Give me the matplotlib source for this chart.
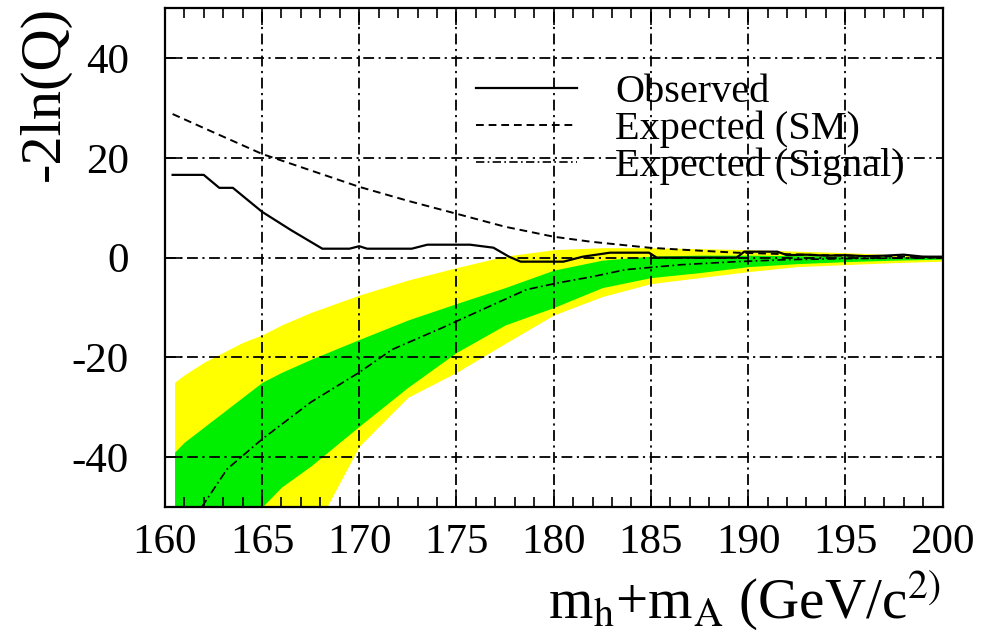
import matplotlib
matplotlib.use("Agg")
import matplotlib.pyplot as plt
from matplotlib.ticker import MultipleLocator

# observed -2ln(Q)
x_obs = [160.4, 162.0, 162.8, 163.5, 165.0, 166.5, 168.1, 169.5, 170.0, 170.4, 172.7, 173.5,
         175.7, 176.9, 177.7, 178.3, 180.5, 181.5, 182.9, 184.9, 185.3, 189.4, 189.8, 191.5,
         192.0, 193.0, 194.0, 195.0, 196.0, 197.0, 198.0, 199.0, 200.0]
y_obs = [16.6, 16.6, 14.0, 14.0, 9.2, 5.5, 1.8, 1.8, 2.3, 1.8, 1.8, 2.6,
         2.6, 2.0, 0.2, -0.8, -0.8, 0.2, 1.0, 1.0, 0.0, 0.0, 1.2, 1.2,
         0.5, 0.6, 0.4, 0.5, 0.3, 0.4, 0.6, 0.2, 0.2]

# expected, background only (SM)
x_sm = [160.4, 162.0, 165.0, 167.5, 170.0, 172.5, 175.2, 177.5, 180.0, 181.9, 182.9,
        184.9, 186.6, 189.4, 192.0, 195.0, 200.0]
y_sm = [28.8, 26.0, 20.8, 17.5, 14.2, 11.4, 8.6, 6.2, 4.2, 3.2, 2.8,
        2.0, 1.6, 1.0, 0.7, 0.4, 0.1]

# expected, signal + background
x_sig = [161.9, 163.2, 165.0, 167.5, 170.0, 171.7, 174.3, 175.2, 178.6, 180.3, 182.0,
         183.7, 186.6, 189.4, 192.0, 195.0, 200.0]
y_sig = [-50.0, -42.4, -36.4, -29.0, -23.0, -18.4, -14.0, -12.4, -6.4, -5.0, -3.8,
         -2.4, -1.4, -0.8, -0.4, -0.2, 0.0]

# 1 and 2 sigma bands around the SM expectation
x_band = [160.5, 161, 162, 163, 164, 165, 166, 167.5, 170, 172.5, 175, 177.5,
          180, 182.5, 185, 187.5, 190, 192.5, 195, 197.5, 200]
y2_hi = [-25, -23.5, -21, -19, -17, -15.5, -13.5, -11, -7.5, -4.5, -2, 0.3,
         1.6, 2.0, 2.0, 1.8, 1.6, 1.3, 1.0, 0.6, 0.3]
y1_hi = [-39, -37, -34, -31, -28, -25, -23, -20.4, -16.4, -12.5, -9.2, -6,
         -2.5, -0.5, 0.3, 0.5, 0.5, 0.4, 0.3, 0.2, 0.1]
y1_lo = [-70, -68, -64, -59, -55, -50, -46, -41.8, -33.8, -26, -19, -13.5,
         -10, -6, -4, -3, -1.8, -1.2, -0.8, -0.5, -0.3]
y2_lo = [-90, -88, -84, -80, -76, -72, -66, -56, -37.8, -28, -23, -17.2,
         -11.5, -7.8, -5.2, -4, -2.8, -1.8, -1.4, -1.0, -0.7]

plt.rcParams['font.family'] = ['Liberation Serif', 'DejaVu Serif']
plt.rcParams['mathtext.fontset'] = 'stix'
plt.rcParams['axes.unicode_minus'] = False

fig = plt.figure(figsize=(9.87, 6.37), dpi=100)
ax = fig.add_axes([0.167, 0.204, 0.788, 0.783])

ax.fill_between(x_band, y2_lo, y2_hi, color='#ffff00', linewidth=0)
ax.fill_between(x_band, y1_lo, y1_hi, color='#00ee00', linewidth=0)

ax.plot(x_obs, y_obs, color='black', lw=1.6, label='Observed')
ax.plot(x_sm, y_sm, color='black', lw=1.4, linestyle=(0, (4, 2.5)), label='Expected (SM)')
ax.plot(x_sig, y_sig, color='black', lw=1.2, linestyle=(0, (5, 2, 1, 2)),
        label='Expected (Signal)')

ax.set_xlim(160, 200)
ax.set_ylim(-50, 50)
ax.xaxis.set_major_locator(MultipleLocator(5))
ax.xaxis.set_minor_locator(MultipleLocator(1))
ax.yaxis.set_major_locator(MultipleLocator(20))

ax.set_axisbelow(False)
ax.grid(True, which='major', color='black', lw=1.3, linestyle=(0, (6, 2.5, 1.2, 2.5)))

ax.tick_params(axis='x', which='both', direction='in', top=True, bottom=True,
               labelsize=31, pad=12, width=1.2)
ax.tick_params(axis='x', which='major', length=12)
ax.tick_params(axis='x', which='minor', length=7)
ax.tick_params(axis='y', which='both', direction='in', left=True, right=False,
               labelsize=31, length=12, width=1.2, pad=26)
for s in ax.spines.values():
    s.set_linewidth(1.6)

ax.legend(loc='upper left', bbox_to_anchor=(0.38, 0.90), frameon=False, fontsize=29,
          handlelength=2.5, handletextpad=0.95, labelspacing=-0.02, borderaxespad=0)

fig.text(0.045, 0.99, '-2ln(Q)', rotation=90, ha='center', va='top', fontsize=42)
fig.text(0.953, 0.03, r'm$_{\mathrm{h}}$+m$_{\mathrm{A}}$ (GeV/c$^{2)}$', ha='right',
         va='baseline', fontsize=41)

fig.savefig('out.png', dpi=100)
